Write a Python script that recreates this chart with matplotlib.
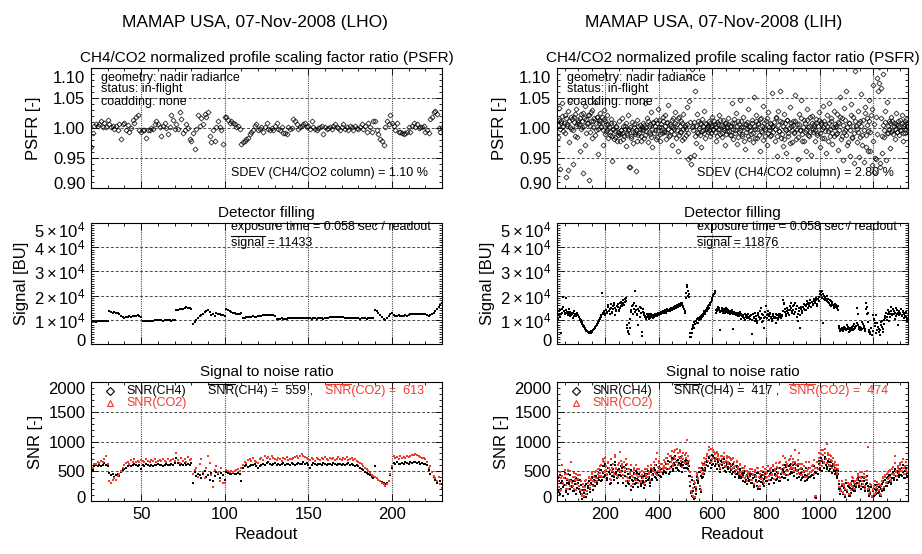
import numpy as np
import matplotlib
matplotlib.use("Agg")
import matplotlib.pyplot as plt
from matplotlib.ticker import MultipleLocator
from matplotlib.transforms import ScaledTranslation
from matplotlib.lines import Line2D

plt.rcParams['font.family'] = ['Liberation Sans', 'DejaVu Sans']
plt.rcParams['mathtext.fontset'] = 'custom'
plt.rcParams['mathtext.rm'] = 'Liberation Sans'
plt.rcParams['mathtext.it'] = 'Liberation Sans:italic'

RED = '#ee3b2e'

# ---------------- LHO flight, one value per readout (20..230)
readout_lho = np.arange(20, 231)

psfr_lho = [
    0.968, 0.991, 1.004, 1.006, 1.003, 1.007, 1.012, 1.002, 1.008, 1.001, 1.013,
    1.007, 1.002, 1.004, 0.998, 1.004, 0.996, 1.007, 0.982, 1.007, 1.008,
    0.997, 1.005, 0.994, 1.000, 1.013, 1.009, 1.018, 1.021, 0.996, 0.994,
    0.996, 0.997, 0.984, 0.997, 0.997, 1.000, 0.998, 1.007, 1.011, 1.006,
    1.002, 0.987, 1.004, 1.009, 1.000, 0.990, 1.002, 1.021, 1.013, 0.998,
    1.007, 0.998, 1.026, 1.015, 0.991, 0.997, 1.007, 1.000, 0.982, 0.978,
    0.991, 0.965, 0.998, 1.021, 1.004, 1.017, 1.007, 1.023, 1.018, 1.026,
    0.987, 0.976, 0.996, 0.979, 1.001, 1.012, 1.002, 0.997, 0.974, 1.019,
    1.018, 1.013, 1.009, 1.012, 1.008, 1.007, 1.001, 1.004, 0.998, 0.973,
    0.976, 0.979, 0.982, 0.984, 0.990, 0.993, 0.996, 1.004, 1.007, 0.996,
    0.998, 1.001, 0.994, 1.001, 1.008, 0.998, 0.997, 1.000, 0.996, 1.004,
    1.008, 0.998, 0.996, 1.001, 0.991, 0.991, 0.990, 1.002, 0.998, 1.000,
    1.015, 1.012, 1.007, 0.998, 1.001, 1.004, 1.007, 1.009, 1.001, 1.004,
    0.998, 1.011, 1.001, 0.998, 0.997, 1.000, 1.002, 1.004, 0.990, 1.001,
    0.998, 1.000, 1.001, 0.998, 1.004, 1.007, 1.001, 1.000, 0.996, 1.002,
    1.007, 0.998, 1.001, 0.996, 1.004, 1.001, 0.997, 1.004, 1.000, 0.998,
    1.002, 1.007, 0.998, 1.004, 0.994, 1.008, 1.001, 0.993, 1.011, 1.012,
    0.997, 0.990, 0.982, 0.978, 0.972, 1.001, 1.012, 1.007, 1.021, 1.008,
    1.004, 0.997, 1.009, 0.993, 0.994, 0.991, 0.990, 0.991, 0.993, 1.001,
    0.994, 1.004, 1.009, 1.002, 1.007, 1.000, 1.002, 1.001, 1.004, 0.994,
    0.997, 0.991, 1.015, 1.019, 1.026, 1.029, 1.023, 1.000, 0.993, 1.001,
]

signal_lho_k = [
    10.8, 9.4, 9.3, 9.2, 9.3, 9.4, 9.3, 9.3, 9.4, 9.5, 9.6,
    13.6, 13.2, 13.0, 13.1, 12.8, 12.9, 12.4, 11.6, 11.2, 10.7,
    11.0, 11.3, 11.4, 11.3, 11.5, 11.6, 11.6, 11.9, 11.5, 11.3,
    9.6, 9.5, 9.4, 9.5, 9.6, 9.7, 9.6, 9.8, 10.0, 10.1,
    9.9, 9.8, 9.7, 9.8, 9.9, 9.9, 9.8, 9.7, 9.8, 9.9,
    14.1, 14.2, 14.4, 14.5, 14.6, 14.9, 15.1, 15.0, 14.8, 14.6,
    8.2, 9.0, 9.8, 10.6, 11.4, 12.0, 12.6, 13.2, 13.8, 14.0,
    13.2, 12.1, 12.6, 11.6, 12.9, 12.6, 12.4, 12.1, 11.8, 11.5,
    14.3, 14.0, 13.6, 13.3, 13.0, 12.8, 12.4, 12.3, 12.5, 12.9,
    10.7, 10.9, 11.1, 11.2, 11.3, 11.3, 11.4, 11.2, 11.3, 11.5,
    11.6, 11.7, 11.8, 11.9, 12.0, 11.9, 11.8, 11.9, 11.8, 11.7,
    10.3, 10.4, 10.5, 10.6, 10.5, 10.4, 10.5, 10.7, 10.8, 10.6,
    10.7, 10.8, 10.9, 10.8, 10.8, 10.7, 10.8, 10.8, 10.7, 10.6,
    10.6, 10.5, 10.6, 10.6, 10.5, 10.6, 10.7, 10.6, 10.5, 10.6,
    10.7, 10.8, 11.0, 11.1, 11.2, 11.3, 11.2, 11.1, 11.0, 11.1,
    11.0, 10.9, 10.8, 10.7, 10.7, 10.6, 10.6, 10.7, 10.6, 10.6,
    10.5, 10.6, 10.7, 10.6, 10.5, 10.6, 10.6, 10.7, 10.6, 13.9,
    13.5, 12.8, 12.0, 11.2, 10.4, 9.8, 10.6, 11.6, 12.3, 12.8,
    11.8, 11.6, 11.7, 11.8, 11.7, 11.6, 11.7, 11.8, 11.7, 11.8,
    12.3, 12.4, 12.5, 12.4, 12.5, 12.4, 12.5, 12.4, 12.3, 12.4,
    11.8, 11.7, 12.0, 12.5, 13.0, 13.8, 14.6, 15.4, 16.2, 16.8,
]

snr_ch4_lho = [
    280, 520, 590, 600, 585, 610, 595, 600, 640, 600, 590,
    470, 430, 450, 410, 440, 460, 420, 480, 520, 540,
    560, 580, 600, 590, 610, 620, 600, 590, 610, 540,
    600, 590, 620, 610, 580, 600, 590, 610, 600, 620,
    600, 610, 590, 600, 620, 610, 600, 630, 610, 640,
    720, 640, 610, 620, 600, 640, 610, 620, 600, 640,
    310, 480, 420, 460, 430, 380, 460, 500, 410, 440,
    360, 470, 330, 420, 480, 450, 380, 470, 430, 360,
    480, 470, 460, 450, 470, 460, 450, 470, 460, 340,
    560, 580, 600, 570, 590, 610, 600, 620, 590, 560,
    580, 600, 620, 610, 640, 650, 630, 600, 620, 640,
    610, 630, 600, 620, 640, 610, 630, 620, 600, 640,
    630, 610, 620, 640, 630, 620, 650, 620, 640, 600,
    560, 610, 640, 620, 600, 630, 620, 610, 640, 620,
    610, 630, 620, 600, 640, 620, 610, 630, 620, 600,
    630, 610, 620, 640, 600, 620, 610, 590, 600, 580,
    560, 540, 520, 490, 470, 450, 430, 410, 390, 590,
    380, 360, 340, 320, 300, 290, 310, 340, 430, 560,
    640, 620, 650, 630, 620, 640, 630, 650, 640, 630,
    650, 640, 660, 650, 640, 650, 630, 640, 620, 630,
    600, 520, 450, 480, 400, 350, 300, 400, 340, 280,
]

snr_co2_lho = [
    400, 560, 630, 620, 660, 640, 680, 650, 700, 760, 620,
    330, 300, 360, 380, 360, 420, 450, 500, 560, 600,
    640, 660, 620, 690, 650, 700, 660, 680, 650, 690,
    670, 660, 700, 680, 650, 690, 670, 700, 660, 680,
    690, 670, 700, 680, 660, 710, 680, 690, 700, 680,
    800, 690, 640, 720, 680, 700, 660, 740, 690, 710,
    450, 520, 560, 400, 620, 700, 480, 380, 560, 750,
    640, 430, 230, 520, 580, 470, 330, 560, 300, 310,
    520, 500, 480, 510, 490, 500, 520, 540, 500, 560,
    600, 660, 640, 690, 700, 670, 720, 680, 660, 640,
    700, 730, 690, 760, 720, 740, 700, 750, 720, 700,
    690, 730, 700, 680, 720, 700, 740, 690, 710, 700,
    720, 740, 760, 730, 750, 790, 760, 740, 720, 700,
    690, 720, 700, 680, 720, 700, 690, 720, 700, 740,
    710, 690, 720, 700, 730, 690, 710, 740, 700, 690,
    720, 700, 740, 690, 710, 730, 690, 700, 680, 660,
    640, 620, 590, 560, 530, 500, 470, 440, 420, 400,
    380, 350, 330, 300, 280, 260, 280, 330, 450, 580,
    760, 720, 740, 700, 750, 720, 740, 730, 760, 740,
    750, 770, 780, 790, 770, 760, 740, 730, 720, 700,
    650, 560, 580, 480, 420, 380, 330, 400, 290, 220,
]

# ---------------- LIH flight, read at two interleaved sets of readouts
readout_lih_a = np.arange(20, 1329, 4)
readout_lih_b = np.arange(22, 1331, 4)

psfr_lih_a = [
    1.012, 0.985, 1.034, 0.932, 1.008, 1.041, 0.995, 1.022, 0.918, 1.003, 1.028, 0.976, 1.046, 0.999, 1.015, 0.940, 1.019, 0.987, 1.031, 1.006,
    1.010, 0.962, 1.024, 1.002, 0.925, 1.017, 1.036, 0.991, 1.008, 1.021, 0.913, 1.004, 1.027, 0.984, 1.012, 1.043, 0.996, 1.019, 0.957, 1.009,
    1.025, 1.001, 1.018, 0.972, 1.030, 1.011, 0.995, 1.022, 1.006, 0.989, 1.015, 0.945, 0.998, 1.009, 0.985, 1.002, 0.978, 0.993, 1.012, 0.990,
    0.996, 1.016, 0.981, 1.004, 0.970, 0.992, 1.021, 0.999, 0.935, 0.986, 1.010, 0.975, 1.002, 0.994, 0.928, 1.013, 0.988, 1.005, 0.979, 0.998,
    1.008, 0.983, 1.042, 0.995, 1.017, 0.976, 1.003, 0.990, 1.026, 0.968, 1.009, 0.997, 1.014, 0.985, 1.032, 1.001, 0.979, 1.006, 0.992, 1.011,
    0.994, 1.021, 0.982, 1.009, 1.038, 0.989, 1.003, 0.971, 1.016, 0.998, 1.027, 0.984, 1.007, 0.962, 1.019, 0.993, 1.011, 0.980, 1.024, 1.002,
    0.988, 1.035, 0.948, 1.087, 1.010, 0.940, 1.098, 1.003, 0.955, 1.062, 0.975, 1.024, 0.992, 1.008, 0.969, 1.015, 0.997, 1.029, 0.983, 1.006,
    1.001, 0.994, 1.012, 0.987, 1.004, 1.018, 0.996, 1.007, 0.979, 1.010, 0.999, 1.022, 0.990, 1.005, 0.985, 1.014, 1.000, 0.972, 1.009, 0.995,
    1.016, 0.989, 1.003, 1.041, 0.982, 1.008, 0.996, 1.025, 0.974, 1.011, 0.993, 1.047, 1.002, 0.986, 1.019, 0.965, 1.006, 0.998, 1.031, 0.981,
    1.004, 0.990, 1.013, 0.977, 1.052, 0.999, 1.021, 0.983, 1.008, 0.961, 1.016, 0.994, 1.037, 1.002, 0.986, 1.011, 0.972, 1.026, 0.996, 1.009,
    0.988, 1.058, 1.004, 0.979, 1.017, 0.953, 1.028, 0.995, 1.061, 0.984, 1.010, 0.970, 1.023, 0.999, 0.958, 1.014, 0.987, 1.035, 1.003, 0.976,
    1.012, 0.991, 1.055, 0.982, 1.007, 0.949, 1.024, 0.997, 1.046, 0.978, 1.013, 0.994, 0.962, 1.031, 1.001, 0.986, 1.018, 0.955, 1.008, 0.993,
    1.004, 0.978, 1.015, 0.992, 1.027, 0.968, 1.010, 0.998, 1.036, 0.983, 1.006, 0.959, 1.021, 0.995, 1.042, 0.987, 1.012, 0.974, 1.029, 1.001,
    0.990, 1.024, 0.963, 1.009, 1.051, 0.981, 1.017, 0.947, 1.033, 0.996, 1.062, 0.972, 1.008, 0.954, 1.040, 0.985, 1.019, 0.942, 1.095, 1.003,
    0.976, 1.028, 0.952, 1.011, 1.057, 0.989, 0.943, 1.035, 0.968, 1.016, 0.995, 1.047, 0.961, 1.022, 0.938, 1.072, 0.927, 1.104, 0.949, 1.083,
    1.102, 0.935, 1.066, 0.958, 1.090, 0.985, 1.028, 0.946, 1.043, 0.991, 1.012, 0.966, 1.019, 0.997, 1.008, 0.981, 1.025, 0.994, 1.005, 0.988,
    1.013, 0.997, 1.021, 0.979, 1.006, 0.992, 1.015, 1.001,
]

psfr_lih_b = [
    1.005, 1.014, 0.998, 1.011, 1.020, 1.003, 1.009, 0.992, 1.016, 1.007, 0.930, 1.012, 1.001, 1.018, 0.996, 1.010, 1.024, 1.004, 0.985, 1.013,
    1.006, 1.017, 0.999, 1.012, 1.025, 1.003, 0.971, 1.015, 1.008, 1.021, 0.994, 1.011, 1.030, 1.002, 1.016, 0.989, 1.009, 1.019, 0.998, 1.013,
    1.011, 1.004, 0.996, 1.015, 0.990, 1.007, 0.999, 0.984, 1.002, 0.993, 1.009, 0.987, 0.998, 0.981, 0.995, 1.004, 0.988, 0.992, 0.979, 0.997,
    0.991, 1.003, 0.986, 0.998, 1.008, 0.989, 0.996, 0.935, 1.001, 0.983, 0.994, 1.006, 0.990, 0.997, 0.978, 1.004, 0.992, 0.999, 0.987, 1.002,
    0.996, 1.005, 0.989, 1.001, 1.012, 0.994, 1.007, 0.985, 0.999, 1.010, 0.992, 1.003, 0.981, 1.008, 0.997, 1.014, 0.990, 1.002, 1.019, 0.995,
    1.004, 0.993, 1.010, 0.998, 0.986, 1.006, 0.995, 1.013, 1.001, 0.990, 1.008, 0.997, 1.016, 0.988, 1.003, 0.994, 1.009, 0.999, 0.984, 1.005,
    0.998, 1.006, 0.991, 1.045, 0.952, 1.002, 0.996, 1.010, 0.987, 1.004, 0.993, 1.012, 1.000, 0.989, 1.007, 0.995, 1.003, 0.992, 1.009, 0.998,
    1.003, 0.996, 1.008, 0.991, 1.005, 0.998, 1.011, 0.994, 1.002, 0.987, 1.006, 0.999, 1.013, 0.992, 1.004, 0.997, 1.009, 0.990, 1.001, 1.007,
    0.995, 1.004, 0.988, 1.009, 0.999, 1.015, 0.992, 1.003, 0.985, 1.007, 0.996, 1.012, 0.990, 1.001, 0.978, 1.006, 0.994, 1.010, 0.987, 1.002,
    0.997, 1.008, 0.991, 1.003, 0.984, 1.012, 0.999, 1.006, 0.989, 1.015, 0.995, 1.004, 0.980, 1.009, 0.998, 1.017, 0.992, 1.001, 0.986, 1.007,
    1.002, 0.993, 1.010, 0.998, 1.019, 0.987, 1.005, 0.995, 1.012, 0.990, 1.003, 0.981, 1.008, 0.997, 1.014, 0.992, 1.000, 0.975, 1.009, 0.996,
    1.005, 0.994, 1.011, 0.999, 0.985, 1.007, 0.996, 1.016, 0.990, 1.002, 0.979, 1.009, 0.997, 1.013, 0.988, 1.004, 0.993, 1.020, 0.999, 1.006,
    0.996, 1.008, 0.989, 1.003, 1.014, 0.992, 1.006, 0.984, 1.001, 1.011, 0.995, 1.004, 0.979, 1.009, 0.998, 1.017, 0.991, 1.002, 0.986, 1.007,
    1.003, 0.992, 1.010, 0.997, 1.018, 0.986, 1.005, 0.994, 1.013, 0.989, 1.001, 0.976, 1.008, 0.996, 1.022, 0.983, 1.004, 0.991, 1.011, 0.998,
    0.994, 1.009, 0.985, 1.003, 0.971, 1.014, 0.996, 1.025, 0.988, 1.005, 0.962, 1.011, 0.993, 1.031, 0.979, 1.006, 0.950, 1.018, 0.990, 1.062,
    1.075, 0.942, 1.016, 0.987, 1.005, 0.996, 1.010, 0.992, 1.003, 0.998, 1.008, 0.994, 1.012, 0.990, 1.004, 0.999, 1.007, 0.993, 1.011, 1.001,
    0.996, 1.008, 0.991, 1.004, 1.012, 0.998, 1.003, 0.995,
]

signal_lih_a_k = [
    7.2, 12.0, 13.5, 11.0, 4.4, 14.5, 19.5, 12.8, 19.0, 13.2, 12.0, 14.6, 11.5, 13.0, 12.4, 10.8, 13.8, 12.2, 11.6, 13.0,
    11.8, 10.5, 9.8, 8.9, 8.0, 7.4, 6.5, 5.8, 5.2, 4.8, 5.0, 4.6, 5.4, 5.1, 5.9, 6.6, 7.3, 8.0, 8.8, 9.5,
    10.2, 11.0, 21.0, 12.8, 13.5, 11.8, 14.2, 13.0, 16.0, 12.5, 14.8, 13.3, 15.5, 17.0, 12.0, 14.2, 15.8, 16.5, 13.6, 15.0,
    17.2, 15.8, 18.0, 17.5, 19.0, 7.9, 5.5, 4.0, 6.8, 13.2, 15.5, 12.4, 16.8, 21.8, 14.0, 12.5, 8.0, 15.2, 13.0, 3.2,
    14.6, 12.0, 11.2, 10.5, 12.4, 11.0, 10.2, 11.6, 12.2, 11.4, 10.8, 12.0, 11.5, 12.6, 13.0, 11.8, 12.5, 13.4, 12.8, 13.6,
    12.9, 14.0, 13.2, 14.5, 13.6, 13.8, 14.8, 14.2, 15.0, 14.4, 15.5, 14.8, 16.0, 15.2, 16.6, 15.8, 17.0, 16.2, 15.6, 13.0,
    19.0, 24.5, 22.0, 20.5, 4.4, 3.0, 6.0, 7.8, 9.0, 8.2, 9.6, 10.2, 8.8, 11.0, 10.4, 12.0, 11.5, 13.0, 12.6, 14.2,
    13.8, 15.5, 15.0, 16.8, 17.5, 19.0, 20.4, 21.8, 13.0, 14.5, 15.2, 14.0, 5.8, 13.6, 14.8, 12.8, 14.2, 13.5, 15.0, 13.2,
    14.0, 12.6, 13.8, 13.2, 6.2, 12.4, 13.0, 11.8, 12.8, 12.2, 11.4, 13.4, 10.5, 12.0, 11.2, 10.0, 11.6, 10.6, 12.4, 11.0,
    10.4, 11.8, 4.2, 12.6, 10.8, 9.6, 11.4, 8.6, 13.0, 10.2, 14.8, 9.0, 12.0, 6.8, 11.2, 15.5, 10.6, 13.8, 9.8, 12.4,
    11.0, 9.4, 12.2, 10.6, 8.8, 11.8, 10.2, 12.6, 11.4, 10.8, 12.0, 18.3, 16.5, 13.2, 11.6, 15.0, 12.8, 14.2, 16.8, 13.6,
    15.8, 12.4, 17.0, 14.6, 11.0, 9.4, 13.8, 6.5, 15.2, 12.8, 16.4, 14.0, 15.6, 17.6, 14.8, 16.2, 18.0, 15.4, 17.2, 16.6,
    18.4, 16.8, 19.0, 15.6, 17.8, 21.8, 20.4, 22.0, 8.6, 20.0, 19.4, 18.6, 17.8, 18.8, 17.0, 16.2, 15.8, 17.2, 15.0, 16.4,
    15.4, 14.8, 15.8, 7.4, 6.2, 5.8, 6.8, 5.2, 7.0, 6.4, 5.6, 7.8, 6.0, 5.4, 6.6, 7.2, 5.8, 8.2, 6.6, 7.6,
    15.0, 8.0, 6.4, 7.0, 5.8, 9.0, 7.4, 6.2, 16.8, 15.2, 13.0, 5.6, 4.2, 6.8, 3.8, 12.0, 10.0, 7.5, 4.4, 8.8,
    6.0, 3.6, 9.0, 7.2, 5.0, 8.4, 10.6, 12.8, 11.0, 14.2, 9.6, 12.4, 15.2, 11.8, 13.6, 10.4, 14.8, 12.6, 8.0, 13.8,
    12.2, 14.6, 11.4, 13.4, 10.8, 12.8, 11.2, 9.3,
]

signal_lih_b_k = [
    10.5, 12.6, 14.0, 12.2, 13.0, 15.2, 13.6, 12.4, 14.2, 12.8, 13.4, 12.6, 13.2, 12.0, 12.8, 11.6, 12.4, 11.8, 12.2, 12.0,
    11.2, 10.0, 9.2, 8.4, 7.6, 6.9, 6.1, 5.5, 5.0, 4.7, 4.9, 4.5, 5.2, 5.6, 6.2, 6.9, 7.6, 8.4, 9.1, 9.8,
    10.6, 11.8, 12.4, 13.2, 12.6, 14.0, 13.4, 15.2, 13.8, 14.6, 16.4, 13.0, 14.4, 16.0, 15.0, 13.8, 15.4, 14.0, 16.8, 15.6,
    16.4, 17.0, 16.2, 18.4, 17.8, 6.5, 4.8, 8.6, 10.5, 14.0, 16.0, 14.6, 13.2, 15.8, 12.0, 14.4, 13.8, 11.2, 14.8, 5.0,
    13.4, 12.8, 11.6, 11.0, 11.8, 12.6, 10.6, 11.2, 12.0, 11.8, 11.2, 12.4, 12.0, 11.6, 12.8, 12.2, 13.0, 12.6, 13.2, 13.0,
    13.4, 13.0, 14.2, 13.8, 14.0, 14.4, 14.0, 14.6, 14.8, 15.2, 15.0, 15.4, 15.6, 16.0, 15.8, 16.4, 16.8, 15.2, 14.4, 13.6,
    21.0, 23.5, 20.0, 19.4, 2.8, 4.6, 7.0, 6.6, 8.4, 9.4, 8.8, 10.8, 9.8, 10.6, 11.6, 11.2, 12.4, 13.6, 13.2, 14.8,
    14.6, 16.0, 16.2, 17.2, 18.2, 19.8, 20.8, 21.2, 14.0, 13.6, 14.4, 15.0, 13.4, 14.2, 13.8, 14.6, 13.0, 14.0, 14.4, 12.8,
    13.4, 13.6, 12.8, 14.2, 12.6, 13.2, 12.2, 12.8, 11.6, 13.0, 12.0, 12.6, 11.4, 11.8, 10.6, 12.2, 11.0, 11.8, 11.2, 10.8,
    11.6, 9.8, 12.2, 11.0, 12.8, 10.4, 9.4, 12.0, 11.2, 13.6, 10.8, 12.4, 9.6, 10.6, 13.2, 11.8, 12.6, 11.4, 13.0, 10.6,
    10.2, 11.6, 10.8, 11.2, 12.4, 10.6, 11.8, 11.0, 12.2, 11.6, 13.8, 16.8, 14.6, 12.4, 13.8, 14.0, 11.8, 15.6, 14.8, 12.8,
    14.2, 16.0, 13.4, 15.8, 12.6, 14.8, 12.0, 14.4, 13.6, 15.4, 14.6, 16.0, 14.2, 16.4, 17.0, 15.6, 16.8, 17.4, 16.2, 17.8,
    17.4, 18.0, 16.4, 18.6, 19.6, 20.8, 21.4, 19.2, 20.6, 18.8, 18.2, 19.8, 17.4, 16.8, 18.0, 17.6, 16.6, 16.0, 15.6, 15.2,
    16.2, 15.0, 14.2, 6.8, 5.4, 6.4, 5.2, 6.0, 6.6, 5.8, 6.2, 7.0, 5.0, 6.8, 5.6, 6.4, 7.6, 6.0, 7.2, 8.6,
    12.6, 7.2, 5.6, 6.6, 6.2, 8.2, 6.8, 5.4, 14.4, 12.2, 9.0, 4.8, 5.0, 3.6, 5.4, 10.4, 8.6, 11.8, 5.8, 7.0,
    4.8, 5.6, 7.8, 9.6, 6.4, 10.0, 11.6, 9.8, 12.2, 13.4, 11.2, 13.8, 12.6, 14.4, 12.2, 13.0, 11.6, 14.0, 12.8, 11.8,
    13.0, 12.0, 13.8, 12.4, 11.6, 13.2, 10.4, 9.6,
]

snr_ch4_lih_a = [
    260, 180, 340, 120, 300, 420, 230, 380, 150, 310, 450, 280, 200, 360, 240, 330, 170, 290, 390, 220,
    310, 150, 270, 80, 230, 60, 190, 290, 120, 250, 340, 210, 300, 380, 270, 420, 330, 280, 460, 360,
    400, 520, 350, 470, 580, 430, 510, 390, 560, 450, 300, 480, 540, 410, 600, 460, 380, 520, 440, 490,
    420, 550, 380, 490, 600, 340, 460, 280, 410, 520, 360, 240, 450, 390, 310, 470, 350, 420, 290, 380,
    330, 420, 270, 380, 460, 350, 410, 300, 480, 370, 440, 520, 390, 470, 430, 550, 480, 410, 530, 460,
    500, 560, 470, 620, 540, 480, 650, 590, 530, 700, 610, 560, 680, 520, 640, 720, 580, 660, 600, 550,
    620, 680, 530, 590, 420, 130, 350, 60, 280, 50, 200, 400, 330, 480, 150, 390, 520, 450, 560, 610,
    650, 580, 720, 640, 690, 600, 760, 680, 620, 710, 650, 590, 530, 680, 610, 560, 640, 500, 580, 620,
    570, 620, 520, 600, 480, 560, 510, 450, 580, 490, 420, 540, 380, 470, 430, 500, 360, 440, 400, 350,
    420, 300, 460, 380, 250, 410, 340, 470, 200, 390, 320, 440, 280, 370, 450, 330, 400, 500, 360, 430,
    470, 380, 520, 440, 360, 490, 410, 550, 330, 460, 400, 530, 480, 390, 570, 510, 440, 600, 490, 540,
    560, 480, 620, 520, 450, 590, 410, 530, 470, 380, 500, 430, 560, 350, 460, 400, 480, 420, 440, 520,
    390, 60, 470, 560, 620, 520, 680, 590, 640, 550, 700, 610, 570, 660, 600, 530, 650, 580, 500, 560,
    480, 420, 510, 290, 200, 160, 250, 130, 220, 180, 310, 150, 240, 90, 270, 210, 330, 170, 280, 230,
    300, 360, 260, 410, 330, 280, 390, 220, 350, 310, 250, 180, 120, 230, 60, 160, 210, 100, 190, 270,
    150, 230, 80, 280, 320, 200, 350, 260, 390, 310, 430, 340, 280, 450, 380, 500, 420, 360, 470, 400,
    520, 440, 560, 480, 390, 510, 450, 420,
]

snr_ch4_lih_b = [
    380, 150, 430, 210, 330, 90, 270, 470, 190, 360, 120, 300, 440, 250, 170, 400, 330, 110, 280, 350,
    200, 360, 110, 40, 180, 130, 260, 70, 220, 330, 150, 280, 400, 190, 350, 260, 420, 300, 380, 470,
    520, 330, 590, 400, 620, 440, 350, 560, 480, 280, 610, 420, 530, 360, 650, 480, 310, 540, 430, 580,
    510, 310, 570, 420, 260, 540, 300, 460, 380, 190, 330, 470, 280, 510, 370, 230, 460, 340, 250, 420,
    300, 220, 450, 330, 500, 370, 260, 520, 360, 450, 560, 400, 600, 350, 480, 570, 420, 530, 470, 590,
    480, 620, 530, 680, 450, 660, 570, 730, 500, 640, 760, 560, 690, 510, 740, 620, 480, 700, 560, 670,
    700, 560, 640, 420, 250, 90, 160, 40, 230, 120, 360, 300, 480, 200, 420, 550, 400, 620, 520, 680,
    580, 740, 640, 560, 780, 620, 720, 590, 700, 530, 690, 600, 480, 660, 550, 700, 570, 490, 650, 540,
    640, 480, 590, 450, 620, 490, 400, 570, 450, 380, 520, 410, 480, 330, 470, 320, 420, 280, 390, 330,
    460, 300, 380, 230, 440, 350, 260, 470, 330, 210, 420, 320, 480, 250, 400, 340, 500, 290, 450, 360,
    380, 500, 310, 450, 540, 370, 470, 330, 560, 410, 500, 380, 600, 430, 520, 360, 580, 450, 620, 470,
    600, 420, 560, 380, 520, 620, 450, 360, 530, 410, 490, 330, 550, 420, 380, 560, 400, 500, 440, 580,
    480, 50, 560, 450, 680, 560, 720, 500, 650, 560, 740, 540, 680, 500, 660, 580, 470, 620, 520, 450,
    520, 380, 460, 200, 120, 280, 110, 240, 70, 300, 150, 260, 80, 220, 140, 330, 190, 260, 170, 310,
    380, 240, 330, 200, 400, 230, 340, 160, 290, 420, 170, 90, 240, 60, 160, 80, 270, 120, 200, 140,
    240, 90, 200, 160, 330, 190, 360, 260, 410, 320, 440, 300, 380, 480, 360, 530, 420, 350, 500, 430,
    540, 420, 600, 460, 380, 560, 400, 470,
]

snr_co2_lih_a = [
    320, 230, 420, 170, 380, 600, 290, 450, 200, 370, 520, 340, 260, 650, 300, 400, 210, 350, 460, 280,
    370, 190, 330, 110, 290, 90, 240, 350, 160, 300, 400, 270, 370, 450, 330, 490, 390, 340, 540, 420,
    470, 600, 410, 700, 660, 500, 590, 450, 640, 520, 360, 560, 620, 470, 780, 530, 440, 600, 510, 830,
    490, 630, 440, 560, 700, 400, 530, 330, 480, 600, 420, 290, 520, 450, 360, 540, 410, 490, 340, 440,
    390, 490, 320, 440, 540, 410, 480, 360, 560, 430, 510, 600, 460, 800, 500, 640, 560, 480, 620, 540,
    580, 650, 550, 720, 630, 560, 760, 690, 620, 820, 710, 650, 880, 600, 740, 830, 670, 760, 700, 640,
    720, 1020, 610, 680, 490, 160, 410, 80, 330, 60, 240, 470, 390, 560, 180, 460, 610, 530, 650, 710,
    760, 680, 900, 750, 880, 700, 860, 790, 720, 820, 750, 690, 620, 760, 710, 650, 740, 580, 670, 720,
    660, 720, 600, 700, 560, 650, 590, 520, 670, 570, 490, 630, 440, 550, 500, 580, 420, 510, 470, 400,
    490, 350, 540, 440, 290, 480, 400, 550, 230, 460, 370, 510, 330, 430, 530, 380, 470, 580, 420, 500,
    550, 440, 610, 510, 420, 570, 480, 640, 380, 540, 470, 750, 560, 450, 660, 590, 510, 700, 570, 630,
    650, 560, 850, 600, 520, 690, 470, 620, 550, 440, 580, 500, 650, 400, 540, 460, 560, 490, 510, 600,
    450, 80, 550, 650, 720, 600, 790, 690, 850, 640, 810, 710, 950, 770, 700, 610, 760, 680, 580, 650,
    560, 490, 600, 340, 240, 190, 290, 150, 260, 210, 360, 180, 280, 110, 310, 250, 380, 200, 330, 270,
    350, 420, 300, 480, 390, 330, 460, 260, 410, 360, 900, 220, 150, 270, 70, 190, 250, 120, 220, 320,
    180, 270, 100, 330, 380, 240, 410, 310, 460, 370, 500, 400, 330, 530, 450, 750, 490, 420, 550, 470,
    600, 510, 650, 560, 450, 590, 520, 480,
]

snr_co2_lih_b = [
    340, 240, 480, 180, 420, 300, 380, 520, 270, 450, 200, 360, 500, 330, 250, 470, 400, 180, 350, 430,
    260, 430, 180, 90, 240, 170, 330, 120, 300, 380, 220, 350, 480, 260, 410, 320, 500, 380, 450, 540,
    590, 420, 680, 480, 720, 520, 430, 660, 560, 370, 700, 500, 620, 440, 740, 560, 400, 640, 510, 670,
    580, 390, 650, 500, 330, 620, 380, 540, 460, 260, 410, 560, 350, 600, 440, 300, 540, 420, 320, 500,
    380, 290, 530, 410, 580, 450, 330, 600, 440, 540, 650, 480, 700, 430, 570, 680, 500, 620, 560, 690,
    560, 720, 620, 790, 540, 760, 660, 840, 590, 740, 860, 650, 800, 600, 850, 720, 570, 810, 650, 780,
    800, 660, 750, 500, 320, 130, 220, 70, 300, 170, 430, 370, 560, 260, 500, 640, 470, 720, 610, 790,
    680, 860, 750, 650, 880, 720, 830, 690, 800, 620, 790, 700, 560, 760, 640, 810, 660, 570, 750, 630,
    740, 560, 690, 530, 720, 570, 470, 660, 530, 450, 610, 480, 560, 400, 550, 390, 500, 340, 460, 400,
    540, 360, 450, 290, 520, 420, 320, 560, 400, 260, 500, 390, 570, 310, 480, 410, 590, 350, 530, 430,
    450, 590, 370, 540, 640, 440, 560, 400, 660, 490, 600, 460, 720, 510, 620, 430, 690, 540, 760, 560,
    710, 500, 660, 450, 620, 800, 540, 430, 630, 490, 580, 400, 650, 500, 450, 660, 480, 590, 520, 690,
    560, 90, 660, 540, 800, 660, 850, 590, 770, 660, 880, 640, 800, 590, 780, 690, 560, 730, 620, 540,
    600, 450, 540, 240, 160, 330, 140, 290, 100, 360, 190, 310, 110, 270, 180, 400, 230, 310, 210, 370,
    450, 290, 400, 250, 480, 280, 410, 200, 350, 510, 210, 120, 290, 80, 200, 110, 330, 150, 250, 180,
    290, 120, 250, 200, 400, 240, 430, 320, 490, 390, 520, 360, 450, 570, 430, 640, 500, 420, 590, 520,
    640, 500, 710, 550, 450, 660, 480, 560,
]

sites = [
    dict(name='LHO', x=[readout_lho], psfr=[psfr_lho], sig=[signal_lho_k],
         ch4=[snr_ch4_lho], co2=[snr_co2_lho],
         xlim=(20, 230), xmaj=50, xmin=10, sdev='1.10', sigmean='11433', m_ch4='559', m_co2='613',
         left=91, title_x=255, red_x=0.667),
    dict(name='LIH', x=[readout_lih_a, readout_lih_b], psfr=[psfr_lih_a, psfr_lih_b],
         sig=[signal_lih_a_k, signal_lih_b_k],
         ch4=[snr_ch4_lih_a, snr_ch4_lih_b], co2=[snr_co2_lih_a, snr_co2_lih_b],
         xlim=(20, 1330), xmaj=200, xmin=50, sdev='2.80', sigmean='11876', m_ch4='417', m_co2='474',
         left=557, title_x=714, red_x=0.661),
]

W, H = 922, 554
fig = plt.figure(figsize=(W / 100, H / 100), dpi=100)

rows = [(68, 188), (223, 344), (382, 501)]
overlined = []   # (axes, x, y, word, colour) -> a bar is drawn over the word later


def frame(ax, s, yticks, ylabels, yminor, ylabel, title, bottom, shift_top, shift_bot, lpad=4):
    ax.set_xlim(s['xlim'])
    ax.set_ylim(yticks[0], yticks[-1])
    ax.xaxis.set_major_locator(MultipleLocator(s['xmaj']))
    ax.xaxis.set_minor_locator(MultipleLocator(s['xmin']))
    ax.set_yticks(yticks)
    ax.set_yticklabels(ylabels)
    ax.yaxis.set_minor_locator(MultipleLocator(yminor))
    ax.tick_params(which='both', direction='in', top=True, right=True, labelsize=12, width=0.6)
    ax.tick_params(which='major', length=5, pad=4)
    ax.tick_params(which='minor', length=2.5)
    ax.tick_params(axis='x', labelbottom=bottom)
    ax.grid(axis='y', which='major', color='0.3', lw=0.7, ls=(0, (3, 2)))
    ax.grid(axis='x', which='major', color='0.3', lw=0.8, ls=(0, (1, 1)))
    ax.set_axisbelow(True)
    for sp in ax.spines.values():
        sp.set_linewidth(0.8)
    # the end labels sit a little inside the frame, as in the original
    labs = ax.get_yticklabels()
    labs[-1].set_transform(labs[-1].get_transform() +
                           ScaledTranslation(0, -shift_top / 100, fig.dpi_scale_trans))
    labs[0].set_transform(labs[0].get_transform() +
                          ScaledTranslation(0, shift_bot / 100, fig.dpi_scale_trans))
    ax.set_ylabel(ylabel, fontsize=12, labelpad=lpad)
    ax.set_title(title, fontsize=11, pad=4)


def bar_text(ax, x, y, word, rest, color='k'):
    ax.text(x, y, word + rest, transform=ax.transAxes, fontsize=9, va='center', color=color)
    overlined.append((ax, x, y, word, color))


for s in sites:
    axes = []
    for (top, bot) in rows:
        axes.append(fig.add_axes([s['left'] / W, 1 - bot / H, 351 / W, (bot - top) / H]))
    ax1, ax2, ax3 = axes

    fig.text(s['title_x'] / W, 1 - 23 / H, 'MAMAP USA, 07-Nov-2008 (%s)' % s['name'],
             ha='center', va='center', fontsize=12.5)

    # PSFR
    for x, y in zip(s['x'], s['psfr']):
        ax1.plot(x, y, 'D', ms=2.6, mfc='none', mec='k', mew=0.5)
    frame(ax1, s, [0.90, 0.95, 1.00, 1.05, 1.10], ['0.90', '0.95', '1.00', '1.05', '1.10'], 0.01,
          'PSFR [-]', 'CH4/CO2 normalized profile scaling factor ratio (PSFR)', False, 9, 5, lpad=9)
    for yy, t in zip([0.917, 0.825, 0.717], ['geometry: nadir radiance', 'status: in-flight', 'coadding: none']):
        ax1.text(0.028, yy, t, transform=ax1.transAxes, fontsize=9, va='center')
    ax1.text(0.40, 0.125, 'SDEV (CH4/CO2 column) = %s %%' % s['sdev'], transform=ax1.transAxes,
             fontsize=9, va='center')

    # detector filling
    for x, y in zip(s['x'], s['sig']):
        ax2.plot(x, np.array(y) * 1000, 's', ms=1.6, mfc='k', mec='k', mew=0)
    frame(ax2, s, [0, 1e4, 2e4, 3e4, 4e4, 5e4],
          ['0'] + [r'$%d\times10^{4}$' % i for i in range(1, 6)], 1000,
          'Signal [BU]', 'Detector filling', False, 6, 4)
    ax2.text(0.40, 0.968, 'exposure time = 0.058 sec / readout', transform=ax2.transAxes,
             fontsize=9, va='center')
    bar_text(ax2, 0.40, 0.835, 'signal', ' = %s' % s['sigmean'])

    # SNR
    for x, y in zip(s['x'], s['ch4']):
        ax3.plot(x, y, 's', ms=1.6, mfc='k', mec='k', mew=0)
    for x, y in zip(s['x'], s['co2']):
        ax3.plot(x, y, 's', ms=1.6, mfc=RED, mec=RED, mew=0)
    frame(ax3, s, [0, 500, 1000, 1500, 2000], ['0', '500', '1000', '1500', '2000'], 100,
          'SNR [-]', 'Signal to noise ratio', True, 6, 4)
    ax3.set_xlabel('Readout', fontsize=12, labelpad=4)
    ax3.plot([0.054], [0.927], 'D', transform=ax3.transAxes, ms=4, mfc='none', mec='k', mew=0.8)
    ax3.plot([0.054], [0.82], '^', transform=ax3.transAxes, ms=4, mfc='none', mec=RED, mew=0.8)
    ax3.text(0.10, 0.927, 'SNR(CH4)', transform=ax3.transAxes, fontsize=9, va='center')
    ax3.text(0.10, 0.82, 'SNR(CO2)', transform=ax3.transAxes, fontsize=9, va='center', color=RED)
    bar_text(ax3, 0.334, 0.927, 'SNR', '(CH4) =  %s ,' % s['m_ch4'])
    bar_text(ax3, s['red_x'], 0.927, 'SNR', '(CO2) =  %s' % s['m_co2'], color=RED)

# bars over the averaged quantities
fig.canvas.draw()
rend = fig.canvas.get_renderer()
to_fig = fig.transFigure.inverted()
for ax, x, y, word, color in overlined:
    t = ax.text(x, y, word, transform=ax.transAxes, fontsize=9, va='center')
    bb = t.get_window_extent(rend)
    t.remove()
    (x0, y0), (x1, y1) = to_fig.transform([(bb.x0, bb.y1 + 0.5), (bb.x1, bb.y1 + 0.5)])
    fig.add_artist(Line2D([x0, x1], [y0, y1], color=color, lw=0.8))

fig.savefig('out.png', dpi=100)
